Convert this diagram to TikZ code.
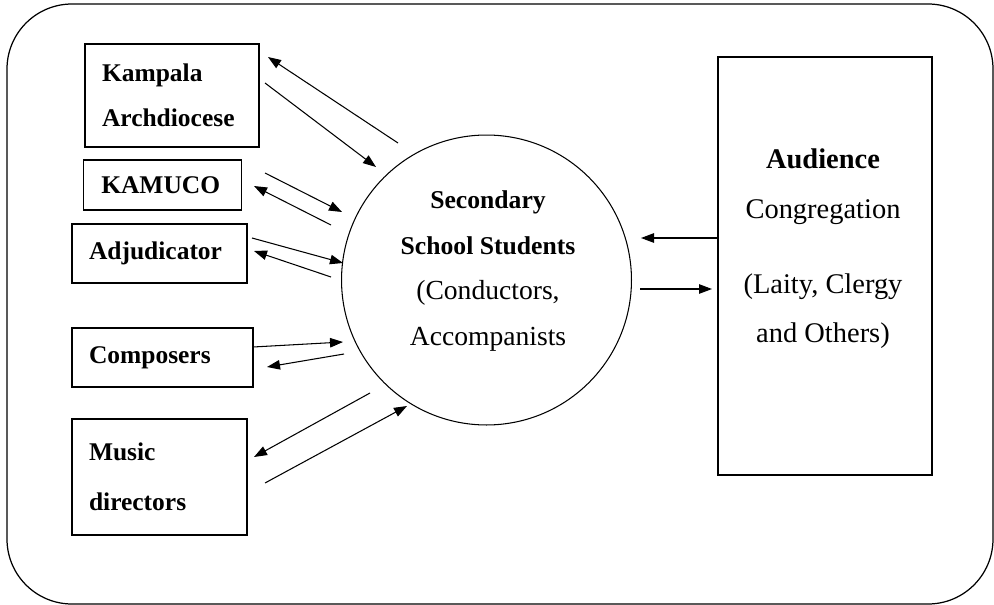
\documentclass[tikz,border=0pt]{standalone}
\usepackage{fontspec}
\setmainfont{Liberation Serif}
\usetikzlibrary{calc,arrows.meta}
\newcommand{\vet}[1]{{\fontsize{14.6}{26}\selectfont\bfseries #1}}
\tikzset{
    kader/.style 2 args={draw, line width=0.7pt, align=left, inner xsep=0.34cm, inner ysep=0pt,
        text width=#1, minimum height=#2, font=\fontsize{14.5}{25.6}\selectfont\bfseries},
    pijl/.style={-{Triangle[length=0.26cm,width=0.19cm]}, line width=0.6pt},
    tekst/.style={align=center, font=\fontsize{15.7}{26}\selectfont}
}

\begin{document}
\begin{tikzpicture}[x=0.02cm, y=-0.02cm]
    \useasboundingbox (0,0) rectangle (994,605);
    \draw[line width=0.7pt, rounded corners=1.3cm] (7,4) rectangle (993,604);

    \node[kader={2.8cm}{2.06cm}] (kampala) at (172,95.5) {Kampala\\Archdiocese};
    \node[kader={2.45cm}{1cm}, inner xsep=0.35cm] (kamuco) at (162.5,185) {KAMUCO};
    \node[kader={2.82cm}{1.18cm}] (adjud) at (159.5,253.5) {Adjudicator};
    \node[kader={2.94cm}{1.18cm}] (compo) at (162.5,357.5) {Composers};
    \node[kader={2.82cm}{2.32cm}, font=\fontsize{14.5}{28.5}\selectfont\bfseries] (music) at (159.5,477) {Music\\directors};

    \node[circle, draw, line width=0.6pt, minimum size=5.8cm] (stud) at (486.5,280) {};
    \node[tekst] (studtxt) at (488,271) {\vet{Secondary}\\\vet{School Students}\\(Conductors,\\Accompanists};

    \node[draw, line width=0.7pt, minimum width=4.28cm, minimum height=8.36cm] (aud) at (825,266) {};
    \node[tekst, font=\fontsize{16.2}{28}\selectfont] (audtxt) at (823,249)
        {\textbf{Audience}\\Congregation\\[15pt](Laity, Clergy\\and Others)};

    % begin- en eindpunten van de pijlen
    \path (398,143) coordinate (ka1) (268,57) coordinate (ka2)
          (265,83) coordinate (ka3) (376,167) coordinate (ka4)
          (265,173) coordinate (km1) (342,212) coordinate (km2)
          (331,225) coordinate (km3) (254,186) coordinate (km4)
          (252,238) coordinate (ad1) (343,263) coordinate (ad2)
          (331,277) coordinate (ad3) (254,251) coordinate (ad4)
          (253,347) coordinate (co1) (343,342) coordinate (co2)
          (344,354) coordinate (co3) (267,367) coordinate (co4)
          (370,393) coordinate (mu1) (254,457) coordinate (mu2)
          (265,483) coordinate (mu3) (407,406) coordinate (mu4)
          (aud.west |- 0,238) coordinate (au1) (641,238) coordinate (au2)
          (640,289) coordinate (au3) (712,289) coordinate (au4);
    \foreach \s/\e in {ka1/ka2, ka3/ka4, km1/km2, km3/km4, ad1/ad2, ad3/ad4,
                       co1/co2, co3/co4, mu1/mu2, mu3/mu4, au1/au2, au3/au4}
        \draw[pijl] (\s) -- (\e);
\end{tikzpicture}
\end{document}
